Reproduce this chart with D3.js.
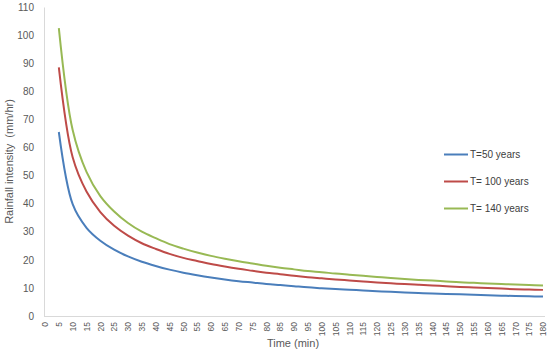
<!DOCTYPE html>
<html>
<head>
<meta charset="utf-8">
<script src="https://cdn.jsdelivr.net/npm/d3@7"></script>
<style>
  body { margin: 0; background: #fff; }
  svg { font-family: "Liberation Sans", Arial, sans-serif; }
</style>
</head>
<body>
<div id="chart"></div>
<script>
// time steps (min)
var times = [5,10,15,20,25,30,35,40,45,50,55,60,65,70,75,80,85,90,95,100,
             105,110,115,120,125,130,135,140,145,150,155,160,165,170,175,180];

// rainfall intensity (mm/hr)
var t50 = [65.5,39.8,31.4,26.8,23.6,21.2,19.3,17.8,16.5,15.4,14.5,13.7,13.0,12.4,11.9,11.4,11.0,10.6,10.2,9.9,
           9.6,9.35,9.1,8.85,8.6,8.4,8.2,8.0,7.85,7.7,7.55,7.4,7.25,7.1,7.0,6.9];
var t100 = [88.5,56.5,44.3,37.0,32.1,28.6,25.9,23.9,22.1,20.7,19.6,18.5,17.6,16.8,16.1,15.4,14.9,14.3,13.8,13.4,
            13.0,12.65,12.3,11.95,11.65,11.35,11.1,10.85,10.6,10.35,10.15,9.95,9.75,9.55,9.4,9.3];
var t140 = [102.5,66.2,51.3,42.7,37.2,33.1,30.0,27.7,25.6,24.0,22.6,21.4,20.4,19.5,18.7,17.9,17.2,16.6,16.0,15.6,
            15.1,14.7,14.3,13.9,13.5,13.15,12.85,12.6,12.3,12.0,11.8,11.6,11.4,11.2,11.05,10.9];

var seriesNames = ["T=50 years", "T= 100 years", "T= 140 years"];
var xTicks = d3.range(0, 181, 5);
var yTicks = d3.range(0, 111, 10);

var series = [
  { name: seriesNames[0], values: t50,  color: "#4a7ebb" },
  { name: seriesNames[1], values: t100, color: "#be4b48" },
  { name: seriesNames[2], values: t140, color: "#98b954" }
];

var width = 550, height = 356;
var margin = { left: 44, right: 5, top: 7, bottom: 40 };

var svg = d3.select("#chart")
  .append("svg")
    .attr("width", width)
    .attr("height", height);

var x = d3.scaleLinear()
  .domain([0, 180])
  .range([margin.left + 1, width - 7]);

var y = d3.scaleLinear()
  .domain([0, 110])
  .range([height - margin.bottom, margin.top]);

// y axis
var yAxis = svg.append("g")
  .attr("transform", "translate(" + margin.left + ",0)")
  .call(d3.axisLeft(y).tickValues(yTicks).tickSize(0).tickPadding(10));
yAxis.select(".domain").attr("stroke", "#d9d9d9");
yAxis.selectAll("text").attr("fill", "#595959").style("font-size", "10px");

// x axis
var xAxis = svg.append("g")
  .attr("transform", "translate(0," + y(0) + ")")
  .call(d3.axisBottom(x).tickValues(xTicks).tickSize(0).tickPadding(0));
xAxis.select(".domain").attr("stroke", "#d9d9d9").attr("d", "M" + margin.left + ",0.5H" + (width - 5));
xAxis.selectAll("text")
  .attr("fill", "#595959")
  .style("font-size", "8.5px")
  .attr("text-anchor", "end")
  .attr("dy", "0.32em")
  .attr("transform", "translate(0,6) rotate(-90)")
  .attr("x", 0)
  .attr("y", 0);

// axis titles
svg.append("text")
  .attr("x", 293)
  .attr("y", 347)
  .attr("text-anchor", "middle")
  .attr("fill", "#595959")
  .style("font-size", "11px")
  .text("Time (min)");

svg.append("text")
  .attr("transform", "translate(13," + ((y(0) + y(110)) / 2) + ") rotate(-90)")
  .attr("text-anchor", "middle")
  .attr("fill", "#595959")
  .style("font-size", "11px")
  .style("white-space", "pre")
  .text("Rainfall intensity  (mm/hr)");

// curves
var line = d3.line()
  .x(function(d, i) { return x(times[i]); })
  .y(function(d) { return y(d); })
  .curve(d3.curveCatmullRom);

svg.append("g")
  .selectAll("path")
  .data(series)
  .enter()
  .append("path")
    .attr("fill", "none")
    .attr("stroke", function(d) { return d.color; })
    .attr("stroke-width", 2)
    .attr("d", function(d) { return line(d.values); });

// legend
var legend = svg.append("g")
  .selectAll("g")
  .data(series)
  .enter()
  .append("g")
    .attr("transform", function(d, i) { return "translate(444," + (154.5 + i * 27) + ")"; });

legend.append("line")
  .attr("x1", 0).attr("x2", 24)
  .attr("stroke", function(d) { return d.color; })
  .attr("stroke-width", 2);

legend.append("text")
  .attr("x", 26)
  .attr("dy", "0.35em")
  .attr("fill", "#404040")
  .style("font-size", "10px")
  .text(function(d) { return d.name; });
</script>
</body>
</html>
